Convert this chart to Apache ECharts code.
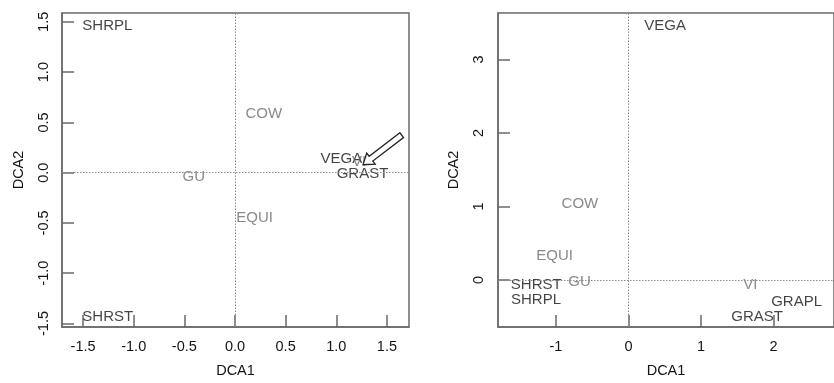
<!DOCTYPE html>
<html>
<head>
<meta charset="utf-8">
<script src="https://cdn.jsdelivr.net/npm/echarts@6/dist/echarts.min.js"></script>
<style>
html,body{margin:0;padding:0;background:#fff;}
#c{width:834px;height:383px;}
</style>
</head>
<body>
<div id="c"></div>
<script>
// ---- data: left panel ----
const leftEnvNames = ['SHRPL', 'SHRST', 'VEGA', 'GRAST'];
const leftEnvX = [-1.26, -1.256, 1.05, 1.259];
const leftEnvY = [1.464, -1.434, 0.138, -0.01];
const leftSpNames = ['COW', 'GU', 'EQUI', 'VI'];
const leftSpX = [0.284, -0.407, 0.194, 1.224];
const leftSpY = [0.586, -0.045, -0.445, 0.105];
const leftArrowFrom = [1.646, 0.373];
const leftArrowTo = [1.264, 0.079];
const leftXTicks = [-1.5, -1.0, -0.5, 0.0, 0.5, 1.0, 1.5];
const leftYTicks = [-1.5, -1.0, -0.5, 0.0, 0.5, 1.0, 1.5];

// ---- data: right panel ----
const rightEnvNames = ['VEGA', 'SHRST', 'SHRPL', 'GRAPL', 'GRAST'];
const rightEnvX = [0.507, -1.272, -1.276, 2.32, 1.775];
const rightEnvY = [3.458, -0.067, -0.269, -0.305, -0.503];
const rightSpNames = ['COW', 'EQUI', 'GU', 'VI'];
const rightSpX = [-0.67, -1.018, -0.675, 1.681];
const rightSpY = [1.039, 0.323, -0.023, -0.067];
const rightXTicks = [-1, 0, 1, 2];
const rightYTicks = [0, 1, 2, 3];

const FONT = "'Liberation Sans', Arial, sans-serif";
const BLACK = '#141414';
const GREY = '#6c6c6c';
const AXIS = '#6a6a6a';

function pts(names, xs, ys) {
  return names.map((n, i) => ({ name: n, value: [xs[i], ys[i]] }));
}

function textSeries(idx, names, xs, ys, color) {
  return {
    type: 'scatter', xAxisIndex: idx, yAxisIndex: idx,
    symbolSize: 1, itemStyle: { color: 'transparent' },
    silent: true, z: 3,
    label: {
      show: true, position: 'inside', formatter: '{b}',
      color: color, fontFamily: FONT, fontSize: 15
    },
    data: pts(names, xs, ys)
  };
}

function refLines(idx) {
  return {
    type: 'scatter', xAxisIndex: idx, yAxisIndex: idx, data: [], silent: true,
    markLine: {
      silent: true, symbol: 'none', label: { show: false },
      lineStyle: { type: [1.5, 1.5], color: '#8a8a8a', width: 1 },
      data: [{ xAxis: 0 }, { yAxis: 0 }]
    }
  };
}

function xAxisCfg(idx, min, max, ticks, fmt) {
  return {
    type: 'value', gridIndex: idx, min: min, max: max,
    name: 'DCA1', nameLocation: 'middle', nameGap: 36,
    nameTextStyle: { color: BLACK, fontFamily: FONT, fontSize: 14.5 },
    axisLine: { show: true, onZero: false, lineStyle: { color: AXIS, width: 1.5 } },
    axisTick: { show: true, inside: true, length: 12, customValues: ticks, lineStyle: { color: AXIS, width: 1.5 } },
    axisLabel: { show: true, margin: 12, customValues: ticks, formatter: fmt, color: BLACK, fontFamily: FONT, fontSize: 14.5 },
    splitLine: { show: false }
  };
}

function yAxisCfg(idx, min, max, ticks, fmt, gap, margin) {
  return {
    type: 'value', gridIndex: idx, min: min, max: max,
    name: 'DCA2', nameLocation: 'middle', nameGap: gap,
    nameTextStyle: { color: BLACK, fontFamily: FONT, fontSize: 14.5 },
    axisLine: { show: true, onZero: false, lineStyle: { color: AXIS, width: 1.5 } },
    axisTick: { show: true, inside: true, length: 12, customValues: ticks, lineStyle: { color: AXIS, width: 1.5 } },
    axisLabel: { show: true, rotate: 90, margin: margin, customValues: ticks, formatter: fmt, color: BLACK, fontFamily: FONT, fontSize: 14.5 },
    splitLine: { show: false }
  };
}

const fmt1 = v => Number(v).toFixed(1);
const fmt0 = v => String(Math.round(v));

const arrowSeries = {
  type: 'custom', xAxisIndex: 0, yAxisIndex: 0, silent: true, z: 5,
  data: [[leftArrowFrom[0], leftArrowFrom[1], leftArrowTo[0], leftArrowTo[1]]],
  renderItem: function (params, api) {
    const a = api.coord([api.value(0), api.value(1)]);
    const b = api.coord([api.value(2), api.value(3)]);
    const dx = b[0] - a[0], dy = b[1] - a[1];
    const L = Math.sqrt(dx * dx + dy * dy);
    const ux = dx / L, uy = dy / L;
    const nx = -uy, ny = ux;
    const sw = 3, hw = 7, hl = 10;
    const hx = b[0] - ux * hl, hy = b[1] - uy * hl;
    const points = [
      [a[0] + nx * sw, a[1] + ny * sw],
      [hx + nx * sw, hy + ny * sw],
      [hx + nx * hw, hy + ny * hw],
      [b[0], b[1]],
      [hx - nx * hw, hy - ny * hw],
      [hx - nx * sw, hy - ny * sw],
      [a[0] - nx * sw, a[1] - ny * sw]
    ];
    return {
      type: 'polygon', shape: { points: points },
      style: { fill: '#ffffff', stroke: '#222', lineWidth: 1.3 }
    };
  }
};

const chart = echarts.init(document.getElementById('c'), null, { renderer: 'canvas' });
chart.setOption({
  animation: false,
  backgroundColor: '#ffffff',
  grid: [
    { left: 62, top: 13, width: 347, height: 318, show: true, borderColor: AXIS, borderWidth: 1.5, backgroundColor: 'transparent' },
    { left: 498, top: 13, width: 345, height: 318, show: true, borderColor: AXIS, borderWidth: 1.5, backgroundColor: 'transparent' }
  ],
  xAxis: [
    xAxisCfg(0, -1.708, 1.718, leftXTicks, fmt1),
    xAxisCfg(1, -1.80, 2.836, rightXTicks, fmt0)
  ],
  yAxis: [
    yAxisCfg(0, -1.535, 1.588, leftYTicks, fmt1, 36, 11),
    yAxisCfg(1, -0.641, 3.633, rightYTicks, fmt0, 37, 12)
  ],
  series: [
    refLines(0),
    refLines(1),
    textSeries(0, leftEnvNames, leftEnvX, leftEnvY, BLACK),
    textSeries(0, leftSpNames, leftSpX, leftSpY, GREY),
    arrowSeries,
    textSeries(1, rightEnvNames, rightEnvX, rightEnvY, BLACK),
    textSeries(1, rightSpNames, rightSpX, rightSpY, GREY)
  ]
});
</script>
</body>
</html>
